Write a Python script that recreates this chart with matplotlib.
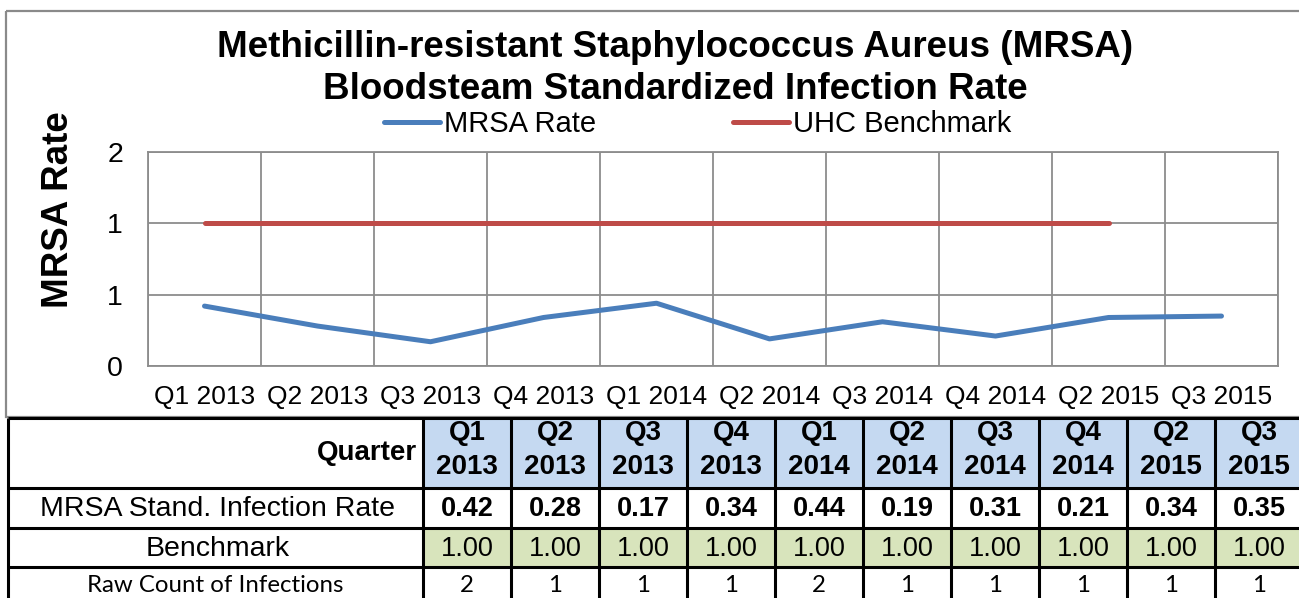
import matplotlib
matplotlib.use("Agg")
import matplotlib.pyplot as plt
import numpy as np
from matplotlib.patches import Rectangle
from matplotlib.lines import Line2D

# ---------------- data ----------------
quarters = ["Q1 2013", "Q2 2013", "Q3 2013", "Q4 2013", "Q1 2014",
            "Q2 2014", "Q3 2014", "Q4 2014", "Q2 2015", "Q3 2015"]
mrsa_rate = [0.42, 0.28, 0.17, 0.34, 0.44, 0.19, 0.31, 0.21, 0.34, 0.35]
benchmark_line = [1.00, 1.00, 1.00, 1.00, 1.00, 1.00, 1.00, 1.00, 1.00, np.nan]
benchmark_table = [1.00, 1.00, 1.00, 1.00, 1.00, 1.00, 1.00, 1.00, 1.00, 1.00]
raw_counts = [2, 1, 1, 1, 2, 1, 1, 1, 1, 1]
y_ticks = [0, 0.5, 1.0, 1.5]
y_tick_labels = ["0", "1", "1", "2"]
row_labels = ["MRSA Stand. Infection Rate", "Benchmark", "Raw Count of Infections"]

title_lines = ["Methicillin-resistant Staphylococcus Aureus (MRSA)",
               "Bloodsteam Standardized Infection Rate"]

plt.rcParams['font.family'] = ['Liberation Sans', 'DejaVu Sans']

W, H = 1299, 598
fig = plt.figure(figsize=(W / 100, H / 100), dpi=100)

BLUE = "#4A7EBB"
RED = "#BE4B48"
GRID = "#8C8C8C"

# ---------------- chart frame ----------------
frame = fig.add_axes([0, 0, 1, 1], zorder=0)
frame.set_xlim(0, W)
frame.set_ylim(H, 0)
frame.axis("off")
frame.add_patch(Rectangle((6, 11), 1310, 406, fill=False, edgecolor="#8A8A8A", lw=1.6))

# ---------------- plot area ----------------
L, R, T, B = 148, 1278, 152, 366
ax = fig.add_axes([L / W, 1 - B / H, (R - L) / W, (B - T) / H], zorder=2)
x = np.arange(len(quarters))
ax.plot(x, mrsa_rate, color=BLUE, lw=3.6, solid_capstyle="round", solid_joinstyle="round")
ax.plot(x, benchmark_line, color=RED, lw=3.6, solid_capstyle="round")
ax.set_xlim(-0.5, len(quarters) - 0.5)
ax.set_ylim(0, 1.5)
ax.set_yticks(y_ticks)
ax.set_yticklabels(y_tick_labels, fontsize=20.5)
ax.set_xticks(x)
ax.set_xticklabels(quarters, fontsize=19)
ax.set_xticks(np.arange(len(quarters) + 1) - 0.5, minor=True)
ax.tick_params(axis="both", which="both", length=0)
ax.tick_params(axis="y", pad=18)
ax.tick_params(axis="x", pad=14)
ax.grid(True, axis="y", which="major", color=GRID, lw=1.3)
ax.grid(True, axis="x", which="minor", color=GRID, lw=1.3)
ax.set_axisbelow(True)
for s in ax.spines.values():
    s.set_color(GRID)
    s.set_linewidth(1.3)

fig.text(675 / W, 1 - 57 / H, title_lines[0], ha="center", va="baseline", fontsize=26.5,
         fontweight="bold")
fig.text(675 / W, 1 - 99 / H, title_lines[1], ha="center", va="baseline", fontsize=26.5,
         fontweight="bold")
fig.text(58 / W, 1 - 210 / H, "MRSA Rate", rotation=90, ha="center", va="center",
         fontsize=26.5, fontweight="bold")

handles = [Line2D([], [], color=BLUE, lw=3.6, solid_capstyle="round"),
           Line2D([], [], color=RED, lw=3.6, solid_capstyle="round")]
fig.legend(handles, ["MRSA Rate", "UHC Benchmark"], loc="center",
           bbox_to_anchor=(698 / W, 1 - 124 / H), ncol=2, frameon=False,
           fontsize=21, handlelength=1.9, handletextpad=0.15, columnspacing=4.7,
           borderpad=0, borderaxespad=0)

# ---------------- table ----------------
tab = fig.add_axes([0, 0, 1, 1], zorder=3)
tab.set_xlim(0, W)
tab.set_ylim(H, 0)
tab.axis("off")

col_x = [8, 423] + [423 + 88 * (i + 1) for i in range(len(quarters))]
row_y = [418, 488, 528, 567, 605]
LW = 2.2

# fills
for i in range(len(quarters)):
    tab.add_patch(Rectangle((col_x[i + 1], row_y[0]), 88, row_y[1] - row_y[0],
                            facecolor="#C5D9F1", edgecolor="none"))
    tab.add_patch(Rectangle((col_x[i + 1], row_y[2]), 88, row_y[3] - row_y[2],
                            facecolor="#D8E4BC", edgecolor="none"))
# lines
for yy in row_y[:4]:
    tab.plot([col_x[0], W + 10], [yy, yy], color="black", lw=LW, solid_capstyle="butt")
for xx in col_x:
    tab.plot([xx, xx], [row_y[0], H + 10], color="black", lw=LW, solid_capstyle="butt")

# texts
tab.text(col_x[1] - 6, (row_y[0] + row_y[1]) / 2, "Quarter", ha="right", va="center",
         fontsize=20, fontweight="bold")
cx0 = (col_x[0] + col_x[1]) / 2 + 2
tab.text(cx0, (row_y[1] + row_y[2]) / 2 + 1, row_labels[0], ha="center", va="center", fontsize=20.5)
tab.text(cx0, (row_y[2] + row_y[3]) / 2 + 1, row_labels[1], ha="center", va="center", fontsize=20.5)
tab.text(215, 586, row_labels[2], ha="center", va="center", fontsize=17.3,
         family=["Lato", "DejaVu Sans"])
for i, q in enumerate(quarters):
    cx = col_x[i + 1] + 44
    qn, yr = q.split(" ")
    tab.text(cx, 433, qn, ha="center", va="center", fontsize=20, fontweight="bold")
    tab.text(cx, 467, yr, ha="center", va="center", fontsize=20, fontweight="bold")
    tab.text(cx, (row_y[1] + row_y[2]) / 2 + 1, f"{mrsa_rate[i]:.2f}", ha="center", va="center",
             fontsize=19.5, fontweight="bold")
    tab.text(cx, (row_y[2] + row_y[3]) / 2 + 1, f"{benchmark_table[i]:.2f}", ha="center", va="center",
             fontsize=19.5)
    tab.text(cx, 586, f"{raw_counts[i]}", ha="center", va="center", fontsize=17.3,
             family=["Lato", "DejaVu Sans"])

fig.savefig("out.png", dpi=100)
